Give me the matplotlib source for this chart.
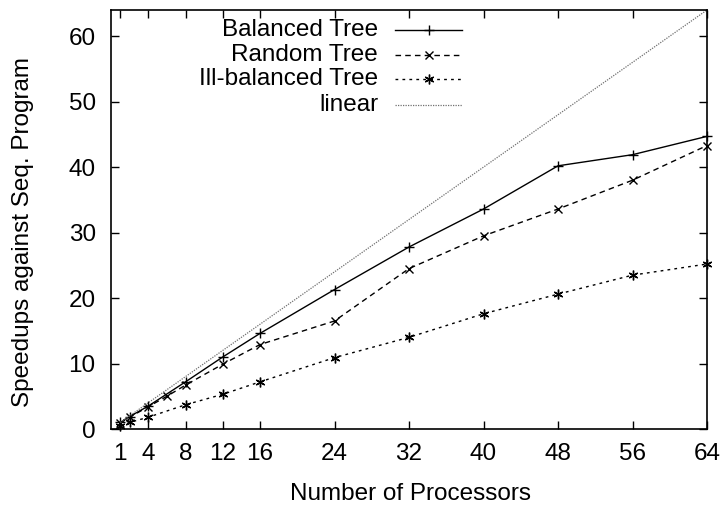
import matplotlib
matplotlib.use("Agg")
import matplotlib.pyplot as plt
from matplotlib.lines import Line2D

plt.rcParams['font.family'] = ['Liberation Sans', 'DejaVu Sans']

# Data
bal_x = [1, 2, 4, 8, 12, 16, 24, 32, 40, 48, 56, 64]
bal_y = [1.0, 1.9, 3.5, 7.2, 11.0, 14.6, 21.3, 27.8, 33.6, 40.2, 41.9, 44.7]

rnd_x = [1, 2, 4, 6, 8, 12, 16, 24, 32, 40, 48, 56, 64]
rnd_y = [0.9, 1.8, 3.4, 5.0, 6.7, 9.9, 12.9, 16.5, 24.5, 29.5, 33.6, 38.0, 43.3]

ill_x = [1, 2, 4, 8, 12, 16, 24, 32, 40, 48, 56, 64]
ill_y = [0.5, 1.0, 1.8, 3.7, 5.3, 7.2, 10.9, 14.0, 17.6, 20.6, 23.5, 25.2]

lin_x = [1, 64]
lin_y = [1, 64]

x_ticks = [1, 4, 8, 12, 16, 24, 32, 40, 48, 56, 64]
y_ticks = [0, 10, 20, 30, 40, 50, 60]

labels = ["Balanced Tree", "Random Tree", "Ill-balanced Tree", "linear"]

FS = 17.5

fig = plt.figure(figsize=(7.23, 5.08), dpi=100)
ax = fig.add_axes([111/723, 1 - 429/508, (707-111)/723, (429-10)/508])

styles = [
    dict(color='black', linestyle='-', marker='+', lw=1.0, ms=7, mew=1.0),
    dict(color='black', linestyle=(0, (4, 3)), marker='x', lw=1.0, ms=6, mew=1.0),
    dict(color='black', linestyle=(0, (2, 3)), marker=(6, 2, 0), lw=1.0, ms=7, mew=1.0),
    dict(color='#707070', linestyle=(0, (1, 1)), marker=None, lw=0.9),
]

series = [(bal_x, bal_y), (rnd_x, rnd_y), (ill_x, ill_y), (lin_x, lin_y)]
for (xs, ys), st in zip(series, styles):
    ax.plot(xs, ys, clip_on=False, **st)

ax.set_xlim(0, 64)
ax.set_ylim(0, 64)
ax.set_xticks(x_ticks)
ax.set_yticks(y_ticks)
ax.tick_params(direction='in', length=6, width=1.0, top=True, right=True,
               labelsize=FS)
ax.tick_params(axis='x', pad=10)
ax.tick_params(axis='y', pad=11)
for s in ax.spines.values():
    s.set_linewidth(1.2)

ax.set_xlabel("Number of Processors", fontsize=FS)
ax.set_ylabel("Speedups against Seq. Program", fontsize=FS)
ax.xaxis.set_label_coords((410 - 111) / (707 - 111), -(494 - 429) / 419)
ax.yaxis.set_label_coords(-(111 - 23) / 596, (429 - 232) / 419)
ax.xaxis.label.set_va('center')
ax.yaxis.label.set_va('center')

# Manual gnuplot-style key (text right-aligned, sample on the right)
row_y = [0.952, 0.893, 0.836, 0.774]
tx = 0.448
s0, s1 = 0.477, 0.589
for lab, st, yy in zip(labels, styles, row_y):
    ax.text(tx, yy, lab, transform=ax.transAxes, ha='right', va='center', fontsize=FS)
    st2 = dict(st)
    mk = st2.pop('marker')
    ms = st2.pop('ms', None)
    mew = st2.pop('mew', None)
    ax.add_line(Line2D([s0, s1], [yy, yy], transform=ax.transAxes, **st2))
    if mk is not None:
        ax.add_line(Line2D([(s0 + s1) / 2], [yy], transform=ax.transAxes,
                           marker=mk, ms=ms, mew=mew, color='black', linestyle='none'))

fig.savefig("out.png", dpi=100)
